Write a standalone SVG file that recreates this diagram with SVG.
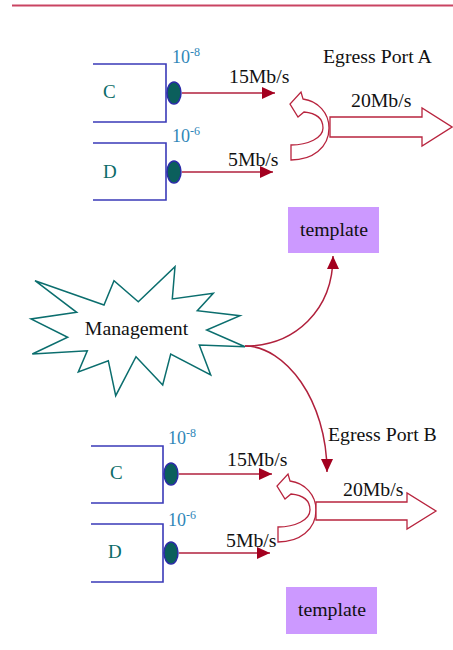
<svg xmlns="http://www.w3.org/2000/svg" width="453" height="650" viewBox="0 0 453 650">
  <style>
    .lbl { font-family: "Liberation Serif", "Times New Roman", serif; font-size: 19.8px; fill: #111; }
    .src { font-family: "Liberation Serif", "Times New Roman", serif; font-size: 19px; fill: #0b6b68; }
    .ber { font-family: "Liberation Serif", "Times New Roman", serif; font-size: 18px; fill: #2f86b8; }
    .box { fill: none; stroke: #3a3ab8; stroke-width: 1.6; }
    .port { fill: #0b5f5c; stroke: #2a2aa8; stroke-width: 1.5; }
    .flow { fill: none; stroke: #b0203c; stroke-width: 1.5; }
    .fat { fill: #fff; stroke: #b8243e; stroke-width: 1.3; }
    .tpl { fill: #cc99ff; }
  </style>
  <defs>
    <marker id="head" markerUnits="userSpaceOnUse" markerWidth="14" markerHeight="13" refX="13" refY="6" orient="auto">
      <path d="M0,0 L13,6 L0,12 Z" fill="#a3001f"/>
    </marker>
  </defs>

  <!-- header rule -->
  <line x1="12" y1="5.5" x2="453" y2="5.5" stroke="#c94462" stroke-width="2"/>

  <!-- Egress Port A -->
  <g id="srcC_A">
    <path class="box" d="M93,64 H166 V122 H93"/>
    <text class="src" x="103" y="98">C</text>
    <text class="ber" x="172" y="63">10<tspan font-size="12" dy="-7">-8</tspan></text>
  </g>
  <g id="srcD_A">
    <path class="box" d="M93,143 H166 V200 H93"/>
    <text class="src" x="103" y="178">D</text>
    <text class="ber" x="172" y="142">10<tspan font-size="12" dy="-7">-6</tspan></text>
  </g>
  <g id="portC_A"><ellipse class="port" cx="174" cy="93" rx="7" ry="11"/></g>
  <g id="portD_A"><ellipse class="port" cx="174" cy="172" rx="7" ry="11"/></g>
  <g id="merge_A">
    <path class="fat" d="M291,145 C308,145 323,138 323,128 C323,118 315,113 304,112 L298,117 L290,104 L301,92 L303,99 C318,101 329,113 329,128 C329,148 312,160 291,160 Z"/>
  </g>
  <g id="out_A">
    <path class="fat" d="M330,117 L422,117 L422,108 L452,127 L422,146 L422,137 L330,137 Z"/>
    <text class="lbl" x="351" y="107">20Mb/s</text>
  </g>
  <text class="lbl" x="323" y="63">Egress Port A</text>

  <g id="template_A">
    <rect class="tpl" x="288" y="207" width="91" height="46"/>
    <text class="lbl" x="334" y="236" text-anchor="middle">template</text>
  </g>

  <!-- management entity -->
  <g id="management">
    <polygon fill="#fff" stroke="#0b6e6e" stroke-width="1.5" stroke-linejoin="miter"
      points="35,280.7 104,305 114,280.7 138.3,301.7 175,266.7 172.3,299 213.3,293.3 197.3,310.7 240,315.7 206.7,330 245,346.7 199.3,345 210.7,375 170.7,354 162.7,385 136,356.7 115.7,395.7 108.3,360.7 78.3,372 87.3,350.7 32.3,354 67.7,337.3 31,319 76.7,312.3"/>
    <text class="lbl" x="136.5" y="335" text-anchor="middle">Management</text>
  </g>

  <!-- Egress Port B -->
  <g id="srcC_B">
    <path class="box" d="M91,446 H163 V503 H91"/>
    <text class="src" x="110" y="479">C</text>
    <text class="ber" x="168" y="444">10<tspan font-size="12" dy="-7">-8</tspan></text>
  </g>
  <g id="srcD_B">
    <path class="box" d="M91,524 H163 V582 H91"/>
    <text class="src" x="108" y="558">D</text>
    <text class="ber" x="168" y="526">10<tspan font-size="12" dy="-7">-6</tspan></text>
  </g>
  <g id="portC_B"><ellipse class="port" cx="171" cy="474" rx="7" ry="11"/></g>
  <g id="portD_B"><ellipse class="port" cx="171" cy="553" rx="7" ry="11"/></g>
  <g id="merge_B">
    <path class="fat" d="M278,527 C295,527 310,520 310,510 C310,500 302,495 291,494 L285,499 L277,486 L288,474 L290,481 C305,483 316,495 316,510 C316,530 299,542 278,542 Z"/>
  </g>
  <g id="out_B">
    <path class="fat" d="M316,502 L407,502 L407,493 L436,511 L407,529 L407,520 L316,520 Z"/>
    <text class="lbl" x="343" y="496">20Mb/s</text>
  </g>
  <text class="lbl" x="328" y="441">Egress Port B</text>

  <g id="template_B">
    <rect class="tpl" x="286" y="587" width="91" height="47"/>
    <text class="lbl" x="332" y="616" text-anchor="middle">template</text>
  </g>

  <!-- connectors -->
  <g id="connectors">
    <line class="flow" x1="182" y1="93" x2="275" y2="93" marker-end="url(#head)"/>
    <line class="flow" x1="182" y1="172" x2="273" y2="172" marker-end="url(#head)"/>
    <text class="lbl" x="229" y="83">15Mb/s</text>
    <text class="lbl" x="228" y="166">5Mb/s</text>

    <line class="flow" x1="179" y1="474" x2="272" y2="474" marker-end="url(#head)"/>
    <line class="flow" x1="179" y1="553" x2="270" y2="553" marker-end="url(#head)"/>
    <text class="lbl" x="227" y="466">15Mb/s</text>
    <text class="lbl" x="226" y="547">5Mb/s</text>

    <path class="flow" d="M245,346 C295,346 333,310 333,256" marker-end="url(#head)"/>
    <path class="flow" d="M245,346 C285,346 327,400 327,472" marker-end="url(#head)"/>
  </g>
</svg>
